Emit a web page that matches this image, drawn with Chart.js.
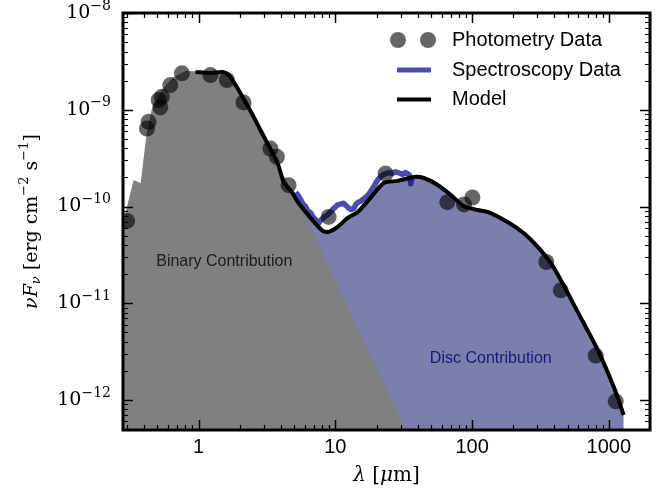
<!DOCTYPE html>
<html>
<head>
<meta charset="utf-8">
<script src="https://cdn.jsdelivr.net/npm/chart.js@4.4.1/dist/chart.umd.min.js"></script>
<style>
  html, body { margin: 0; padding: 0; background: #fff; }
  #wrap { width: 671px; height: 499px; }
</style>
</head>
<body>
<div id="wrap"><canvas id="sed" width="671" height="499"></canvas></div>
<script>
// wavelength in micron, nuFnu in erg cm^-2 s^-1
const photWave = [0.30, 0.419, 0.431, 0.510, 0.525, 0.539, 0.621, 0.755, 1.22, 1.61, 2.13, 3.35, 3.74, 4.55, 8.93, 23.3, 65.9, 87.3, 100.5, 349, 445, 802, 1123];
const photFlux = [7.1e-11, 6.4e-10, 7.5e-10, 1.26e-9, 1.06e-9, 1.36e-9, 1.80e-9, 2.38e-9, 2.28e-9, 2.03e-9, 1.19e-9, 3.97e-10, 3.26e-10, 1.66e-10, 7.8e-11, 2.19e-10, 1.11e-10, 1.05e-10, 1.24e-10, 2.67e-11, 1.36e-11, 2.88e-12, 9.7e-13];

const specWave = [5.12, 5.35, 5.57, 5.8, 6.06, 6.3, 6.60, 6.9, 7.18, 7.55, 7.8, 8.07, 8.4, 8.78, 9.1, 9.55, 10.0, 10.4, 10.9, 11.5, 12.0, 12.5, 13.0, 13.6, 14.1, 14.6, 15.2, 15.8, 16.6, 17.5, 18.3, 19.1, 19.7, 20.4, 21.3, 22.2, 23.3, 24.5, 26.0, 27.6, 29.3, 31.1, 32.4, 33.8, 34.8, 35.6, 36.4];
const specFlux = [1.40e-10, 1.30e-10, 1.18e-10, 1.06e-10, 1.00e-10, 9.0e-11, 8.6e-11, 7.7e-11, 7.3e-11, 6.7e-11, 7.2e-11, 7.5e-11, 7.9e-11, 8.2e-11, 8.6e-11, 9.3e-11, 9.9e-11, 1.04e-10, 1.06e-10, 1.08e-10, 1.02e-10, 9.6e-11, 9.3e-11, 9.5e-11, 1.05e-10, 1.10e-10, 1.13e-10, 1.17e-10, 1.24e-10, 1.33e-10, 1.46e-10, 1.60e-10, 1.74e-10, 1.88e-10, 2.02e-10, 2.12e-10, 2.18e-10, 2.24e-10, 2.20e-10, 2.28e-10, 2.22e-10, 2.15e-10, 2.24e-10, 2.18e-10, 2.12e-10, 1.72e-10, 2.05e-10];

const modelWave = [0.95, 1.22, 1.50, 1.66, 1.96, 2.44, 3.09, 3.78, 4.19, 4.79, 5.30, 6.59, 8.07, 8.93, 10.4, 12.3, 14.6, 18.1, 22.6, 28.6, 37.4, 44.3, 56.0, 69.7, 86.8, 110, 130, 182, 238, 302, 376, 444, 592, 829, 1086, 1285];
const modelFlux = [2.46e-9, 2.40e-9, 2.46e-9, 2.29e-9, 1.60e-9, 9.27e-10, 4.88e-10, 2.82e-10, 1.79e-10, 1.42e-10, 1.12e-10, 7.63e-11, 5.60e-11, 5.47e-11, 6.16e-11, 7.63e-11, 8.79e-11, 1.23e-10, 1.75e-10, 1.84e-10, 2.02e-10, 1.97e-10, 1.67e-10, 1.32e-10, 1.01e-10, 9.2e-11, 8.79e-11, 6.93e-11, 5.33e-11, 3.83e-11, 2.61e-11, 1.75e-11, 8.15e-12, 3.30e-12, 1.37e-12, 7.0e-13];

const binaryWave = [0.273, 0.292, 0.335, 0.377, 0.417, 0.453, 0.536, 0.656, 0.804, 0.95, 1.22, 1.50, 1.66, 1.96, 2.44, 3.09, 3.78, 4.33, 4.79, 5.57, 6.71, 50];
const binaryFlux = [4.5e-11, 8.6e-11, 1.88e-10, 1.75e-10, 5.75e-10, 9.95e-10, 1.60e-9, 2.18e-9, 2.52e-9, 2.50e-9, 2.45e-9, 2.48e-9, 2.29e-9, 1.60e-9, 9.27e-10, 4.88e-10, 2.82e-10, 1.88e-10, 1.48e-10, 9.9e-11, 5.73e-11, 1.38e-13];

// disc contribution follows the model once the binary fades
const discWave = modelWave.slice(8);
const discFlux = modelFlux.slice(8);

const xTickValues = [1, 10, 100, 1000];
const xTickLabels = ['1', '10', '100', '1000'];
const yTickValues = [1e-12, 1e-11, 1e-10, 1e-9, 1e-8];
const yTickExps = ['\u221212', '\u221211', '\u221210', '\u22129', '\u22128'];

const binaryLabel = { x: 1.54, y: 2.7e-11, text: 'Binary Contribution' };
const discLabel = { x: 137, y: 2.68e-12, text: 'Disc Contribution' };

const toPoints = (xs, ys) => xs.map((v, i) => ({ x: v, y: ys[i] }));

const SERIF = '"DejaVu Serif", "Liberation Serif", serif';
const SANS = '"Liberation Sans", Arial, sans-serif';

// draw a row of text pieces (for super/subscripts)
function drawRuns(ctx, runs, x, y, align) {
    let total = 0;
    runs.forEach(r => { ctx.font = r.font; r.w = ctx.measureText(r.t).width; total += r.w; });
    let cx = align === 'center' ? x - total / 2 : (align === 'right' ? x - total : x);
    ctx.textAlign = 'left';
    ctx.textBaseline = 'middle';
    runs.forEach(r => {
        ctx.font = r.font;
        ctx.fillText(r.t, cx, y + (r.dy || 0));
        cx += r.w;
    });
}

const sedFrame = {
    id: 'sedFrame',
    afterDatasetsDraw(chart) {
        const { ctx, chartArea: a, scales: { x, y } } = chart;
        ctx.save();
        ctx.fillStyle = '#000';
        ctx.strokeStyle = '#000';

        // inward ticks, major and minor, on all four sides
        for (let e = -1; e <= 3; e++) {
            for (let m = 1; m <= 9; m++) {
                const v = m * Math.pow(10, e);
                if (v < x.min || v > x.max) continue;
                const px = Math.round(x.getPixelForValue(v)) + 0.5;
                const len = m === 1 ? 10 : 5;
                ctx.lineWidth = m === 1 ? 1.5 : 1.2;
                ctx.beginPath();
                ctx.moveTo(px, a.bottom); ctx.lineTo(px, a.bottom - len);
                ctx.moveTo(px, a.top); ctx.lineTo(px, a.top + len);
                ctx.stroke();
            }
        }
        for (let e = -13; e <= -8; e++) {
            for (let m = 1; m <= 9; m++) {
                const v = m * Math.pow(10, e);
                if (v < y.min * 0.999 || v > y.max * 1.001) continue;
                const py = Math.round(y.getPixelForValue(v)) + 0.5;
                const len = m === 1 ? 10 : 5;
                ctx.lineWidth = m === 1 ? 1.5 : 1.2;
                ctx.beginPath();
                ctx.moveTo(a.left, py); ctx.lineTo(a.left + len, py);
                ctx.moveTo(a.right, py); ctx.lineTo(a.right - len, py);
                ctx.stroke();
            }
        }

        // frame
        ctx.lineWidth = 3;
        ctx.strokeRect(a.left, a.top, a.right - a.left, a.bottom - a.top);

        // x tick labels
        ctx.font = '20px ' + SANS;
        ctx.textAlign = 'center';
        ctx.textBaseline = 'middle';
        xTickValues.forEach((v, i) => {
            ctx.fillText(xTickLabels[i], x.getPixelForValue(v), a.bottom + 17);
        });

        // y tick labels as 10^n
        yTickValues.forEach((v, i) => {
            const py = y.getPixelForValue(v);
            drawRuns(ctx, [
                { t: '10', font: '19px ' + SERIF },
                { t: yTickExps[i], font: '14px ' + SERIF, dy: -7 }
            ], a.left - 12, py, 'right');
        });

        // axis titles
        drawRuns(ctx, [
            { t: '\u03bb', font: 'italic 20px ' + SERIF },
            { t: ' [', font: '20px ' + SERIF },
            { t: '\u03bc', font: 'italic 20px ' + SERIF },
            { t: 'm]', font: '20px ' + SERIF }
        ], (a.left + a.right) / 2, 476, 'center');

        ctx.save();
        ctx.translate(32, (a.top + a.bottom) / 2);
        ctx.rotate(-Math.PI / 2);
        drawRuns(ctx, [
            { t: '\u03bdF', font: 'italic 19px ' + SERIF },
            { t: '\u03bd', font: 'italic 13px ' + SERIF, dy: 5 },
            { t: ' [erg cm', font: '19px ' + SERIF },
            { t: '\u22122', font: '13px ' + SERIF, dy: -7 },
            { t: ' s', font: '19px ' + SERIF },
            { t: '\u22121', font: '13px ' + SERIF, dy: -7 },
            { t: ']', font: '19px ' + SERIF }
        ], 0, 0, 'center');
        ctx.restore();

        // region labels
        ctx.textAlign = 'center';
        ctx.textBaseline = 'middle';
        ctx.font = '16px ' + SANS;
        ctx.fillStyle = '#1a1a1a';
        ctx.fillText(binaryLabel.text, x.getPixelForValue(binaryLabel.x), y.getPixelForValue(binaryLabel.y));
        ctx.fillStyle = '#101c7c';
        ctx.fillText(discLabel.text, x.getPixelForValue(discLabel.x), y.getPixelForValue(discLabel.y));

        // legend (no frame)
        const lx = 397, tx = 452;
        const rows = [40, 70, 99.5];
        ctx.fillStyle = 'rgba(0,0,0,0.6)';
        [398, 428].forEach(cx => {
            ctx.beginPath();
            ctx.arc(cx, rows[0], 8, 0, Math.PI * 2);
            ctx.fill();
        });
        ctx.lineWidth = 5;
        ctx.strokeStyle = 'rgba(0,0,139,0.7)';
        ctx.beginPath(); ctx.moveTo(lx, rows[1]); ctx.lineTo(lx + 34, rows[1]); ctx.stroke();
        ctx.lineWidth = 4;
        ctx.strokeStyle = '#000';
        ctx.beginPath(); ctx.moveTo(lx, rows[2]); ctx.lineTo(lx + 34, rows[2]); ctx.stroke();

        ctx.fillStyle = '#000';
        ctx.font = '20px ' + SANS;
        ctx.textAlign = 'left';
        ctx.fillText('Photometry Data', tx, rows[0]);
        ctx.fillText('Spectroscopy Data', tx, rows[1]);
        ctx.fillText('Model', tx, rows[2]);

        ctx.restore();
    }
};

new Chart(document.getElementById('sed'), {
    type: 'line',
    data: {
        datasets: [
            {
                label: 'Photometry Data',
                data: toPoints(photWave, photFlux),
                showLine: false,
                pointRadius: 8,
                pointBackgroundColor: 'rgba(0,0,0,0.6)',
                pointBorderWidth: 0,
                order: 0
            },
            {
                label: 'Model',
                data: toPoints(modelWave, modelFlux),
                borderColor: '#000',
                borderWidth: 4,
                pointRadius: 0,
                tension: 0.25,
                fill: false,
                order: 1
            },
            {
                label: 'Spectroscopy Data',
                data: toPoints(specWave, specFlux),
                borderColor: 'rgba(0,0,139,0.7)',
                borderWidth: 5.5,
                borderJoinStyle: 'round',
                pointRadius: 0,
                fill: false,
                order: 2
            },
            {
                label: 'Binary Contribution',
                data: toPoints(binaryWave, binaryFlux),
                borderWidth: 0,
                pointRadius: 0,
                backgroundColor: '#808080',
                fill: 'start',
                order: 3
            },
            {
                label: 'Disc Contribution',
                data: toPoints(discWave, discFlux),
                borderWidth: 0,
                pointRadius: 0,
                tension: 0.25,
                backgroundColor: 'rgb(123,127,172)',
                fill: 'start',
                order: 4
            }
        ]
    },
    options: {
        responsive: false,
        animation: false,
        layout: { padding: { left: 123, right: 21, top: 13, bottom: 69 } },
        plugins: {
            legend: { display: false },
            tooltip: { enabled: false }
        },
        scales: {
            x: { type: 'logarithmic', min: 0.28, max: 2000, display: false },
            y: { type: 'logarithmic', min: 4.9e-13, max: 1e-8, display: false }
        }
    },
    plugins: [sedFrame]
});
</script>
</body>
</html>
